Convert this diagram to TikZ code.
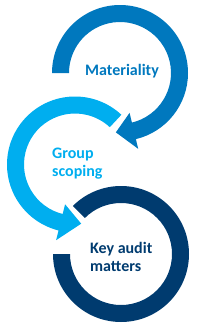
\documentclass[tikz,border=0pt]{standalone}
\usepackage{fontspec}
\setmainfont{Carlito}
\definecolor{cA}{HTML}{0078BE}
\definecolor{cB}{HTML}{00AEEF}
\definecolor{cC}{HTML}{003B6F}
\begin{document}
\begin{tikzpicture}[x=1pt,y=-1pt,
  lbl/.style={anchor=base west, align=left, inner sep=0pt,
    font=\fontsize{16}{17.7}\selectfont\bfseries}]
\useasboundingbox (0,0) rectangle (200,330);
% ring 1 (Materiality)
\begin{scope}[shift={(120,73)}]
  \fill[cA] (-180:68) arc[start angle=-180, end angle=76.5, radius=68]
    -- (76.5:78) -- (94:59.5) -- (76.5:41) -- (76.5:51)
    arc[start angle=76.5, end angle=-180, radius=51] -- cycle;
\end{scope}
% ring 2 (Group scoping)
\begin{scope}[shift={(75,164.5)}]
  \fill[cB] (-47:68) arc[start angle=-47, end angle=-256, radius=68]
    -- (-256:78) -- (-276:59.5) -- (-256:41) -- (-256:51)
    arc[start angle=-256, end angle=-47, radius=51] -- cycle;
\end{scope}
% ring 3 (Key audit matters)
\begin{scope}[shift={(121,254)}]
  \fill[cC] (-180:68) arc[start angle=-180, end angle=-495, radius=68]
    -- (-495:51) arc[start angle=-495, end angle=-180, radius=51] -- cycle;
\end{scope}
\node[lbl, text=cA] (mat) at (85,75.5) {Materiality};
\node[lbl, text=cB] (grp) at (52,176) {Group\\scoping};
\node[lbl, text=cC] (kam) at (90,271) {Key audit\\matters};
\end{tikzpicture}
\end{document}
